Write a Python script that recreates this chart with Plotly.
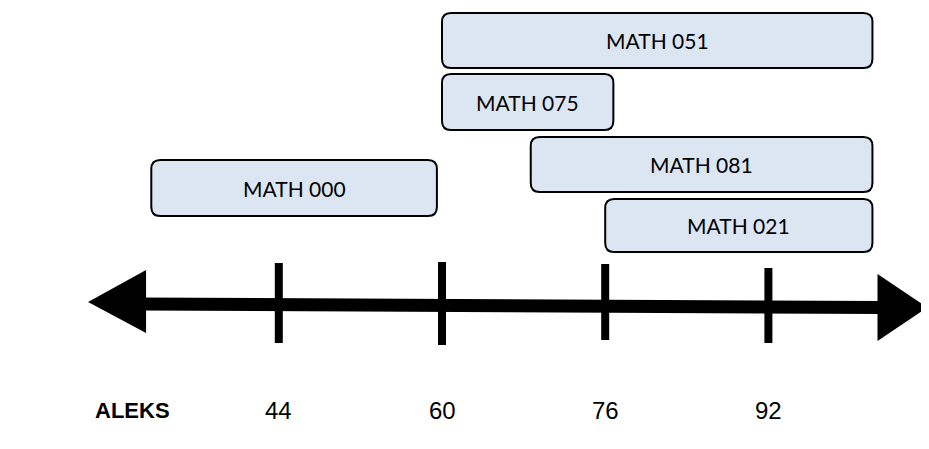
import plotly.graph_objects as go

# ---- data ----
courses = ["MATH 051", "MATH 075", "MATH 081", "MATH 000", "MATH 021"]
score_low = [60, 60, 68.7, 31.5, 76]
score_high = [102.2, 76.8, 102.2, 59.5, 102.2]
tick_scores = [44, 60, 76, 92]
tick_labels = ["44", "60", "76", "92"]
axis_title = "ALEKS"
axis_min, axis_max = 25.3, 107.6

# ---- layout / style (pixel-like vertical units, page coordinates) ----
W, H = 921, 441
OFF = 8            # page offset of the plot div (body margin)
PX = 10.2          # pixels per score point
ORIGIN_PX = 442    # page pixel x of score 60
xr = [60 + (OFF - ORIGIN_PX) / PX, 60 + (OFF + W - ORIGIN_PX) / PX]
yrange = [OFF + H, OFF]
box_rows = [(13, 68), (74, 130), (137, 192), (160, 216), (199, 252)]
tick_spans = [(263, 343), (262, 345), (264, 340), (268, 343)]
FILL = "#dce6f2"

def rrect(x0, x1, y0, y1, r=9):
    rx = r / PX
    return (f"M {x0+rx},{y0} L {x1-rx},{y0} Q {x1},{y0} {x1},{y0+r} "
            f"L {x1},{y1-r} Q {x1},{y1} {x1-rx},{y1} L {x0+rx},{y1} "
            f"Q {x0},{y1} {x0},{y1-r} L {x0},{y0+r} Q {x0},{y0} {x0+rx},{y0} Z")

fig = go.Figure()
fig.add_trace(go.Scatter(x=[xr[0]], y=[OFF], mode="markers", marker=dict(opacity=0),
                         showlegend=False, hoverinfo="skip"))

shapes = []
annotations = []

# arrow shaft and heads
head_l = 58 / PX
head_r = 50 / PX
yl, yr_ = 302, 307.5
shapes.append(dict(type="line", xref="x", yref="y",
                   x0=axis_min + head_l - 0.5, x1=axis_max - head_r + 0.5,
                   y0=yl + 2, y1=yr_, line=dict(color="black", width=13)))
shapes.append(dict(type="path", xref="x", yref="y", fillcolor="black", line=dict(width=0),
                   path=f"M {axis_min},{yl} L {axis_min+head_l},{yl-32} L {axis_min+head_l},{yl+31} Z"))
shapes.append(dict(type="path", xref="x", yref="y", fillcolor="black", line=dict(width=0),
                   path=f"M {axis_max},{yr_} L {axis_max-head_r},{yr_-33.5} L {axis_max-head_r},{yr_+33.5} Z"))

# ticks
for s, (t0, t1) in zip(tick_scores, tick_spans):
    shapes.append(dict(type="line", xref="x", yref="y", x0=s, x1=s, y0=t0, y1=t1,
                       line=dict(color="black", width=8)))

# course boxes
for name, lo, hi, (y0, y1) in zip(courses, score_low, score_high, box_rows):
    shapes.append(dict(type="path", xref="x", yref="y", path=rrect(lo, hi, y0, y1),
                       fillcolor=FILL, line=dict(color="black", width=2)))
    annotations.append(dict(x=(lo + hi) / 2, y=(y0 + y1) / 2, xref="x", yref="y",
                            text=name, showarrow=False,
                            font=dict(family="Lato", size=21, color="black")))

# axis labels
for s, lab in zip(tick_scores, tick_labels):
    annotations.append(dict(x=s, y=410, xref="x", yref="y", text=lab, showarrow=False,
                            font=dict(family="Liberation Sans, Arial", size=24, color="black")))
annotations.append(dict(x=60 + (93 - ORIGIN_PX) / PX, y=410, xref="x", yref="y", xanchor="left",
                        text=f"<b>{axis_title}</b>", showarrow=False,
                        font=dict(family="Liberation Sans, Arial", size=22, color="black")))

fig.update_layout(
    width=W, height=H, margin=dict(l=0, r=0, t=0, b=0),
    paper_bgcolor="white", plot_bgcolor="white",
    xaxis=dict(range=xr, visible=False, fixedrange=True),
    yaxis=dict(range=yrange, visible=False, fixedrange=True),
    shapes=shapes, annotations=annotations, showlegend=False,
)
fig.write_html("out.html", config={"displayModeBar": False})
